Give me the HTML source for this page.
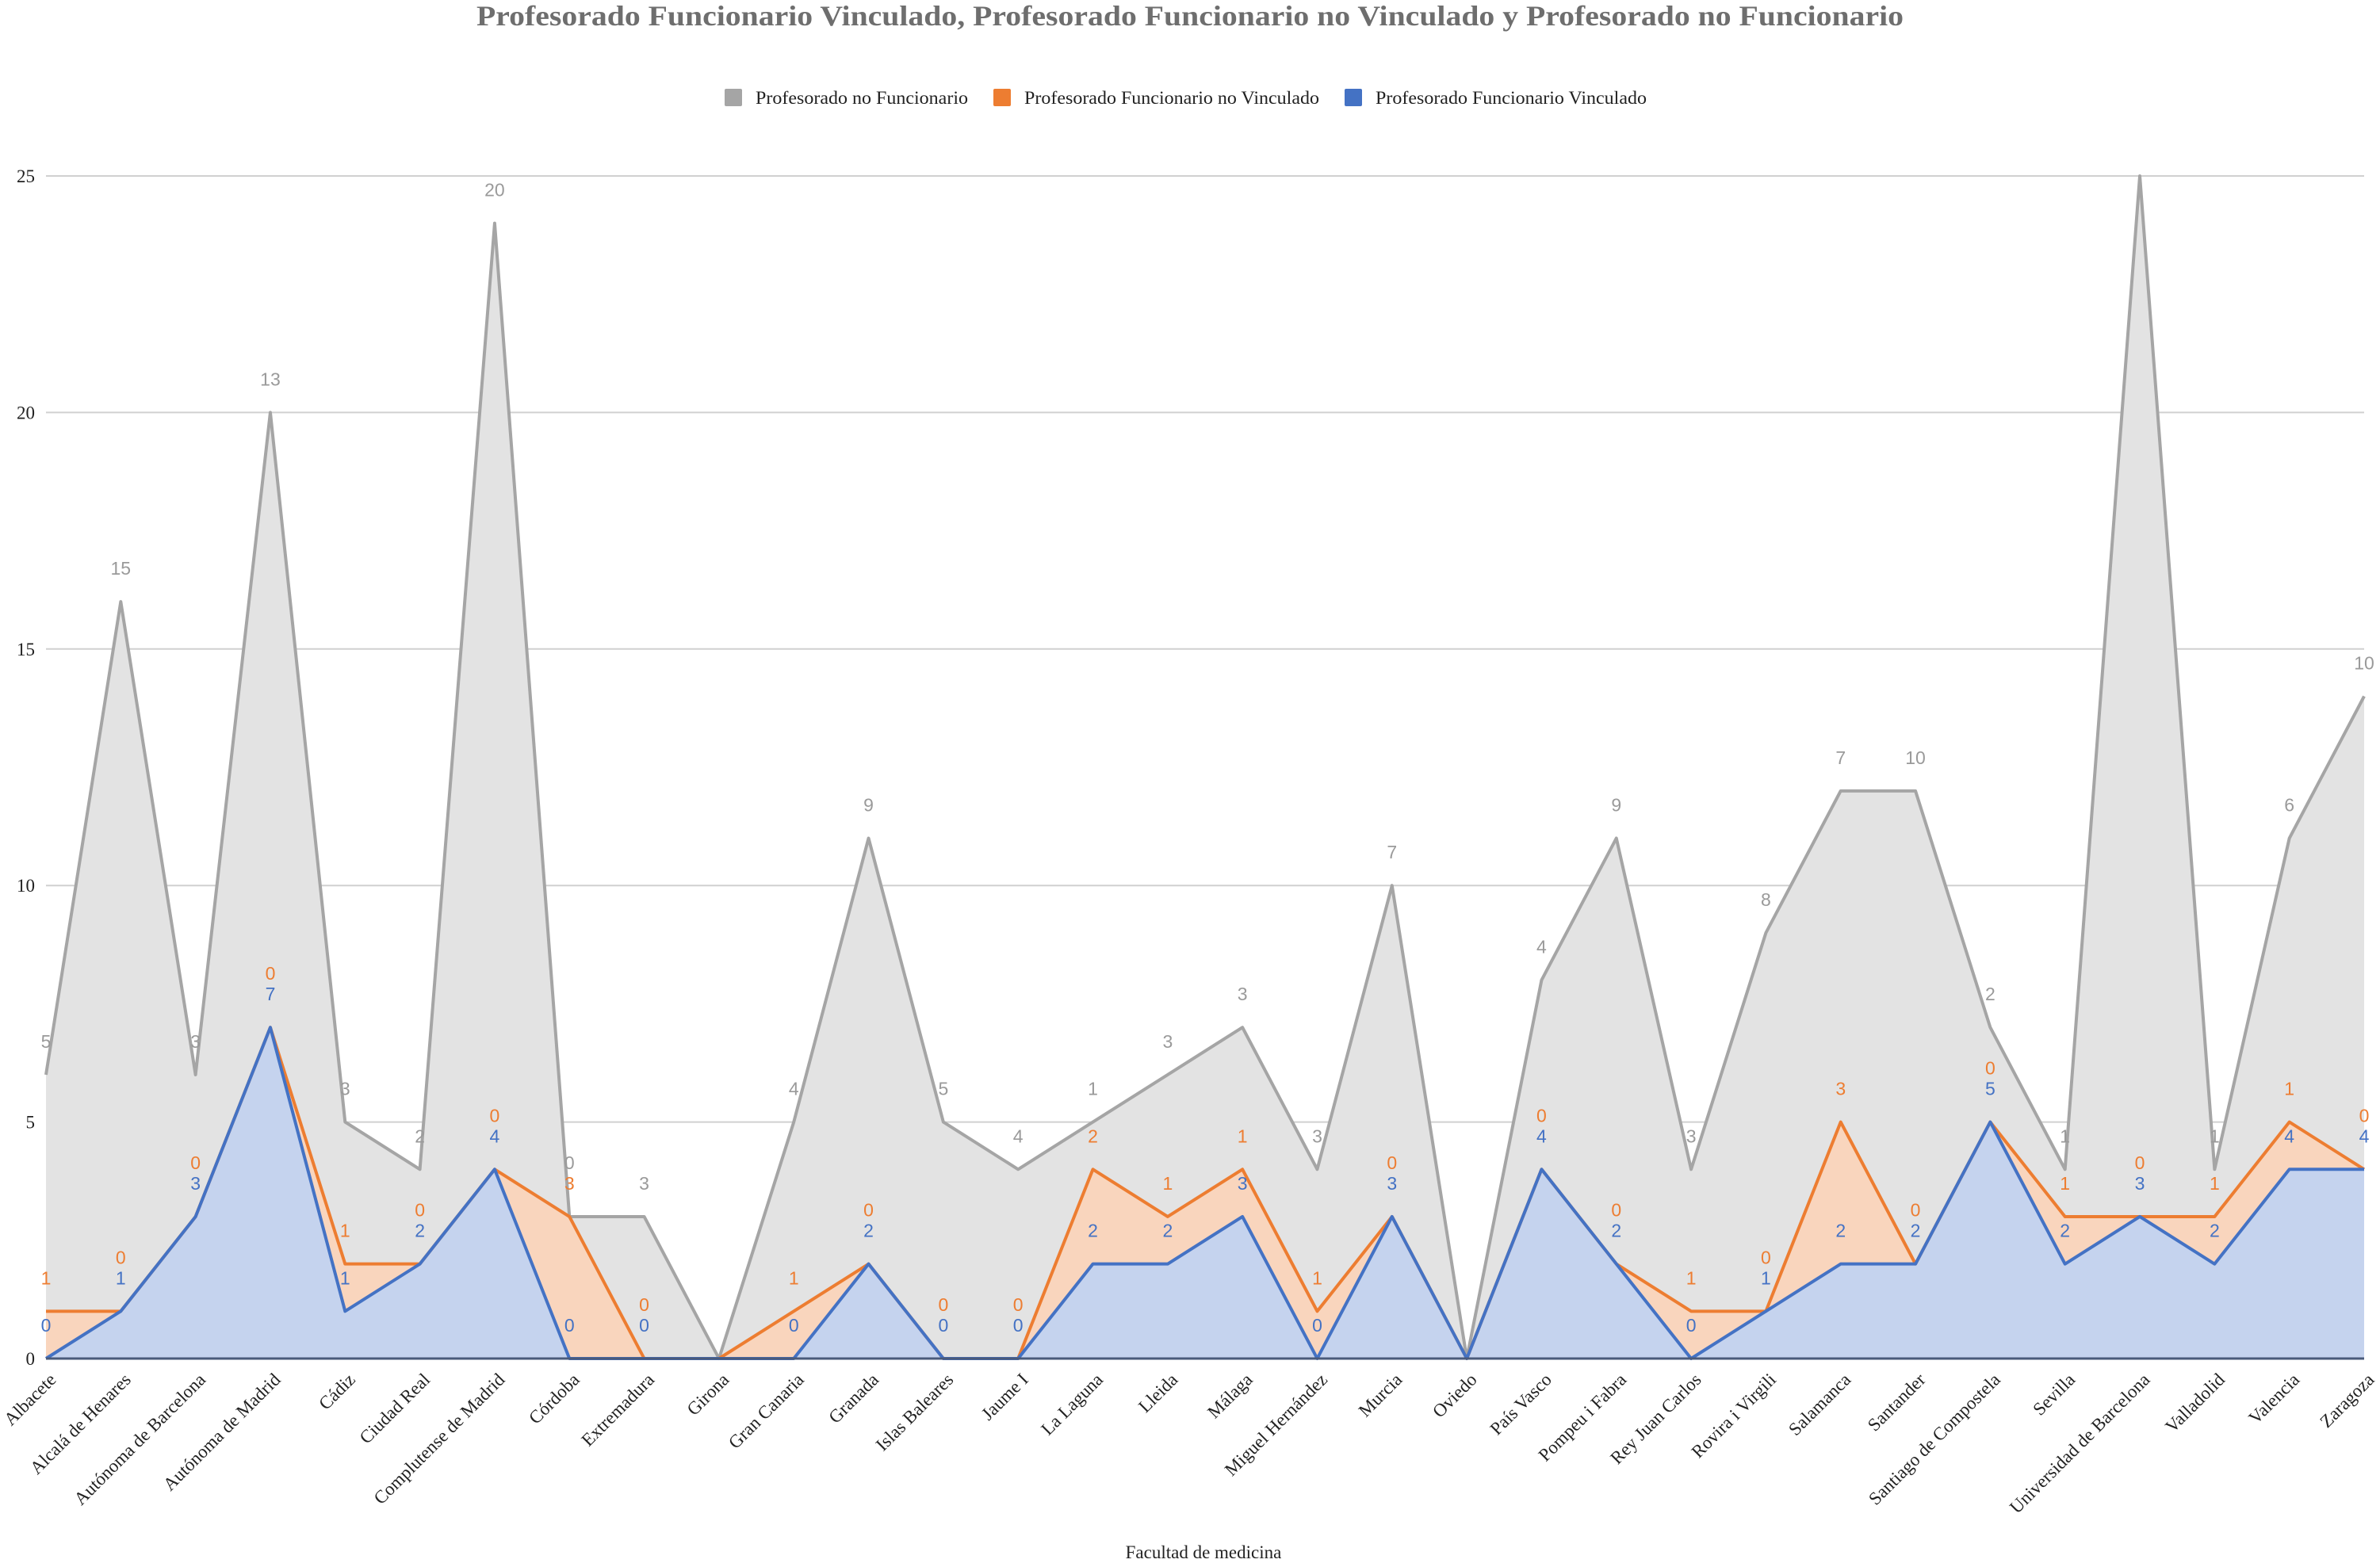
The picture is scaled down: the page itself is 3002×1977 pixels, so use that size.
<!DOCTYPE html>
<html><head><meta charset="utf-8"><style>
html,body{margin:0;padding:0;background:#fff;}
svg{display:block;}
</style></head><body>
<svg id="chart" width="3002" height="1977" viewBox="0 0 3002 1977" xmlns="http://www.w3.org/2000/svg">
<text x="1501" y="32" text-anchor="middle" font-family="Liberation Serif, serif" font-weight="bold" font-size="36" fill="#6e6e6e" textLength="1800" lengthAdjust="spacingAndGlyphs">Profesorado Funcionario Vinculado, Profesorado Funcionario no Vinculado y Profesorado no Funcionario</text>
<g font-family="Liberation Serif, serif" font-size="23" fill="#222">
 <g><rect x="914" y="112" width="22" height="22" rx="2" fill="#a5a5a5"/><text x="953" y="131" textLength="268" lengthAdjust="spacingAndGlyphs">Profesorado no Funcionario</text></g>
 <g><rect x="1253" y="112" width="22" height="22" rx="2" fill="#ed7d31"/><text x="1292" y="131" textLength="372" lengthAdjust="spacingAndGlyphs">Profesorado Funcionario no Vinculado</text></g>
 <g><rect x="1696" y="112" width="22" height="22" rx="2" fill="#4472c4"/><text x="1735" y="131" textLength="342" lengthAdjust="spacingAndGlyphs">Profesorado Funcionario Vinculado</text></g>
</g>
<g id="grid"></g>
<g id="areas"></g>
<g id="labels"></g>
<g id="xlabels"></g>
<text x="1518" y="1966" text-anchor="middle" font-family="Liberation Serif, serif" font-size="23" fill="#222">Facultad de medicina</text>
</svg>
<script>
const categories = ["Albacete","Alcalá de Henares","Autónoma de Barcelona","Autónoma de Madrid","Cádiz","Ciudad Real","Complutense de Madrid","Córdoba","Extremadura","Girona","Gran Canaria","Granada","Islas Baleares","Jaume I","La Laguna","Lleida","Málaga","Miguel Hernández","Murcia","Oviedo","País Vasco","Pompeu i Fabra","Rey Juan Carlos","Rovira i Virgili","Salamanca","Santander","Santiago de Compostela","Sevilla","Universidad de Barcelona","Valladolid","Valencia","Zaragoza"];
const vinculado =    [0,1,3,7,1,2,4,0,0,0,0,2,0,0,2,2,3,0,3,0,4,2,0,1,2,2,5,2,3,2,4,4];
const noVinculado =  [1,0,0,0,1,0,0,3,0,0,1,0,0,0,2,1,1,1,0,0,0,0,1,0,3,0,0,1,0,1,1,0];
const noFuncionario =[5,15,3,13,3,2,20,0,3,0,4,9,5,4,1,3,3,3,7,0,4,9,3,8,7,10,2,1,22,1,6,10];
const yTicks = [0,5,10,15,20,25];

const NS="http://www.w3.org/2000/svg";
const X0=58,X1=2982,Y0=1714,Y25=222;
const xs=i=>X0+(X1-X0)*i/(categories.length-1);
const ys=v=>Y0-(Y0-Y25)*v/25;
function mk(tag,attrs,parent){const e=document.createElementNS(NS,tag);for(const k in attrs)e.setAttribute(k,attrs[k]);parent.appendChild(e);return e;}
const grid=document.getElementById('grid'),areas=document.getElementById('areas'),labels=document.getElementById('labels'),xl=document.getElementById('xlabels');
yTicks.forEach(t=>{
 if(t>0){const l=mk('line',{x1:X0,x2:X1,y1:ys(t),y2:ys(t),stroke:'#d0d0d0','stroke-width':2},grid);
 
 }
 const tx=mk('text',{x:44,y:ys(t)+8,'text-anchor':'end','font-family':'Liberation Serif, serif','font-size':23,fill:'#222'},grid);
 tx.textContent=t;
 
 
});
const b1=vinculado.slice();
const b2=vinculado.map((v,i)=>v+noVinculado[i]);
const b3=b2.map((v,i)=>v+noFuncionario[i]);
function poly(top,bottom){let p=top.map((v,i)=>xs(i)+','+ys(v));for(let i=bottom.length-1;i>=0;i--)p.push(xs(i)+','+ys(bottom[i]));return p.join(' ');}
const zero=categories.map(()=>0);
const series=[
 {name:'no-funcionario',top:b3,bot:b2,fill:'#e3e3e3',stroke:'#a5a5a5',vals:noFuncionario,lc:'#9a9a9a'},
 {name:'funcionario-no-vinculado',top:b2,bot:b1,fill:'#f9d5bd',stroke:'#ed7d31',vals:noVinculado,lc:'#ed7d31'},
 {name:'funcionario-vinculado',top:b1,bot:zero,fill:'#c5d3ee',stroke:'#4472c4',vals:vinculado,lc:'#4472c4'}];
series.forEach(s=>{
 const a=mk('polygon',{points:poly(s.top,s.bot),fill:s.fill},areas);
 
 
});
series.forEach(s=>{
 const l=mk('polyline',{points:s.top.map((v,i)=>xs(i)+','+ys(v)).join(' '),fill:'none',stroke:s.stroke,'stroke-width':4,'stroke-linejoin':'round'},areas);
 
 
});
mk('line',{x1:X0,x2:X1,y1:Y0,y2:Y0,stroke:'#4a5a7a','stroke-width':3},areas);
const order=[series[2],series[1],series[0]];
categories.forEach((c,i)=>{
 if(b3[i]===0) return;
 let prevY=1e9;
 order.forEach(s=>{
  let y=Math.min(ys(s.top[i])-34,prevY-26);
  prevY=y;
  if(y<210) return;
  const t=mk('text',{x:xs(i),y:y,'text-anchor':'middle','font-family':'Liberation Sans, sans-serif','font-size':23,fill:s.lc},labels);
  t.textContent=s.vals[i];
  
  
 });
});
categories.forEach((c,i)=>{
 const x=xs(i)+14,y=1742;
 const t=mk('text',{x:x,y:y,'text-anchor':'end',transform:'rotate(-45 '+x+' '+y+')','font-family':'Liberation Serif, serif','font-size':23,fill:'#222'},xl);
 t.textContent=c;
 
 
});
</script>
</body></html>
